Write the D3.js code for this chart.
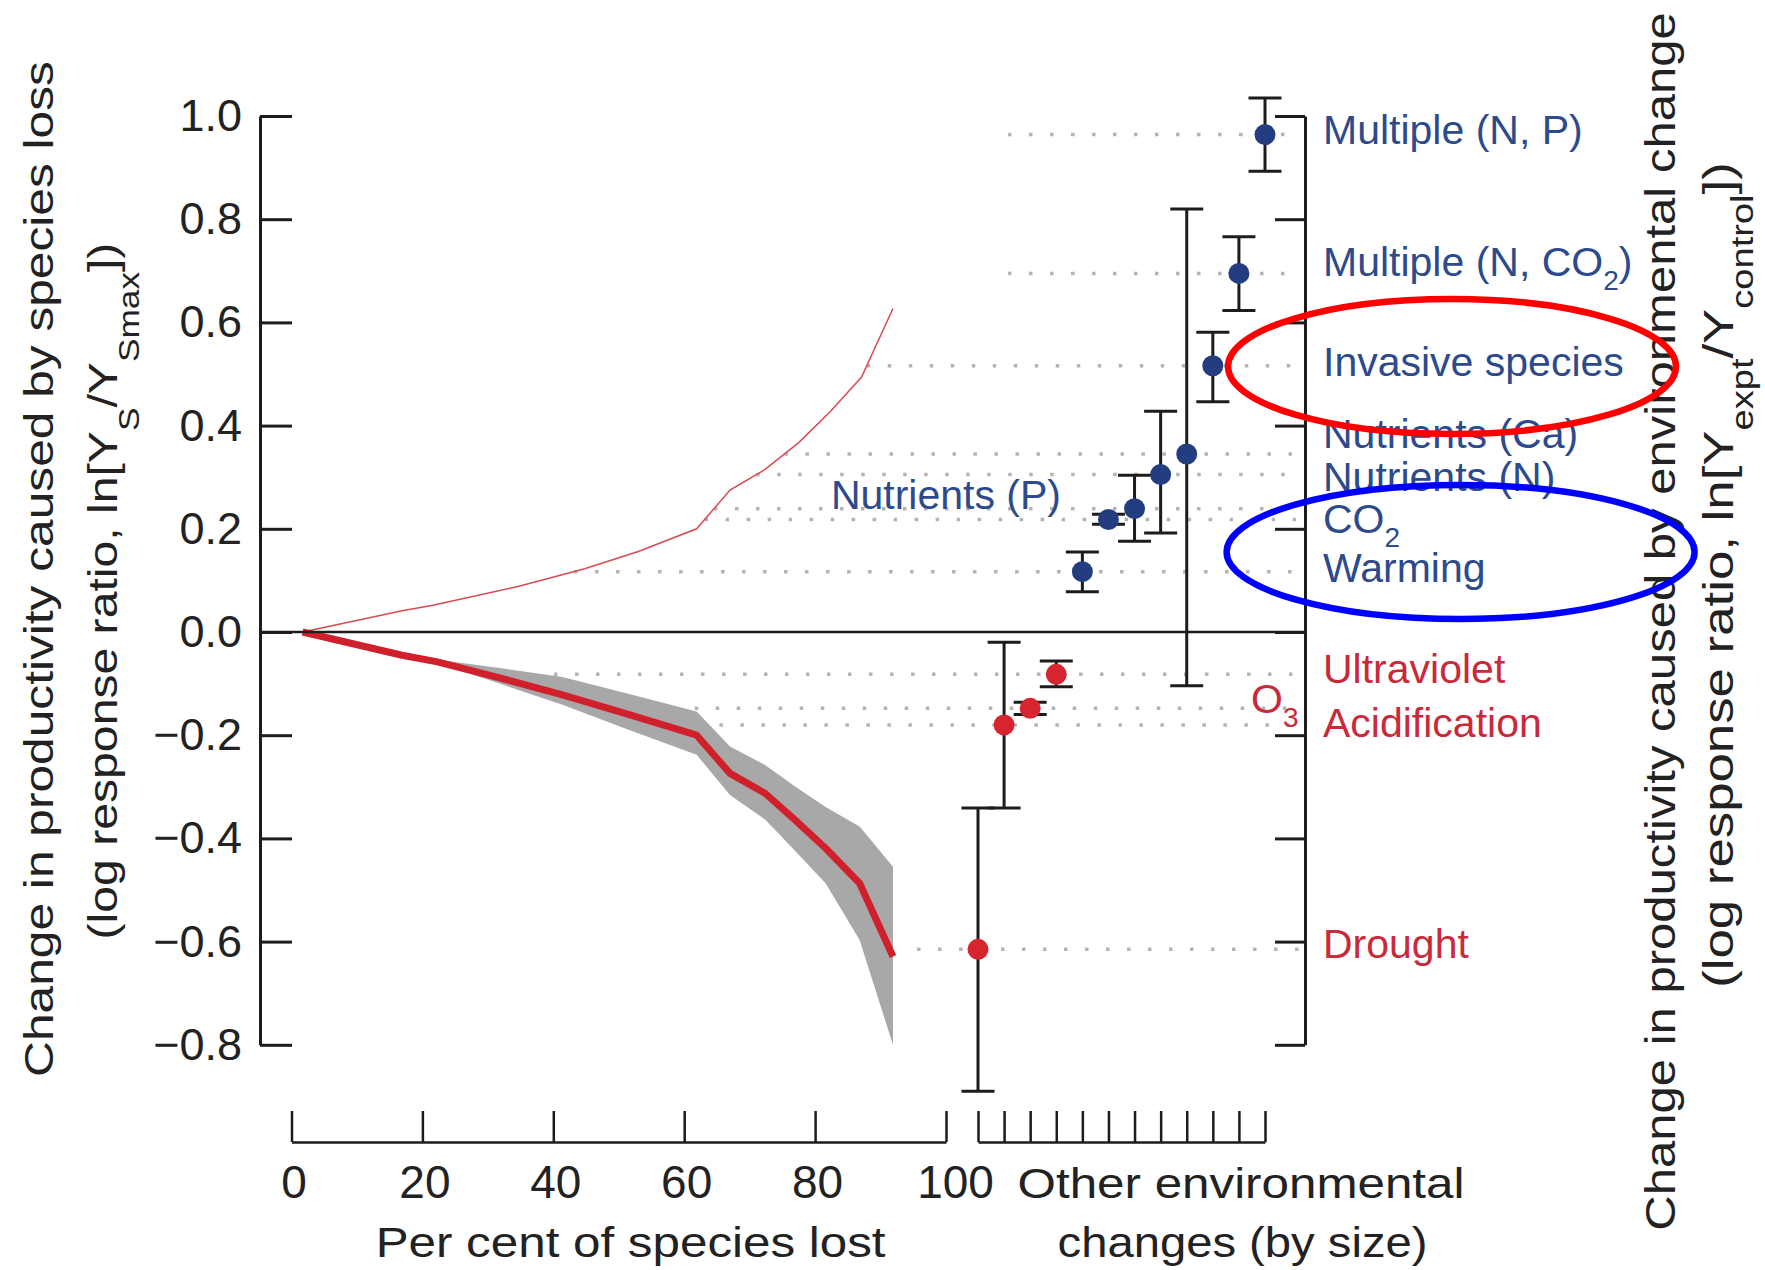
<!DOCTYPE html>
<html>
<head>
<meta charset="utf-8">
<script src="https://cdn.jsdelivr.net/npm/d3@7"></script>
<style>
  html, body { margin: 0; padding: 0; background: #fff; }
  svg { display: block; font-family: "Liberation Sans", Arial, Helvetica, sans-serif; }
</style>
</head>
<body>
<svg id="chart" width="1765" height="1270"></svg>
<script>
// ---- Species-loss curve (per cent of species lost vs. log response ratio) ----
const lossPct   = [1.7, 16.9, 22.3, 31.8, 41.4, 51.6, 61.9, 67, 72.4, 77, 81.6, 86.8, 91.9];
const lossMean  = [0, -0.045, -0.058, -0.089, -0.122, -0.160, -0.200, -0.274, -0.313, -0.365, -0.419, -0.487, -0.629];
const lossUpper = [0, -0.044, -0.054, -0.070, -0.087, -0.120, -0.154, -0.222, -0.258, -0.300, -0.339, -0.377, -0.455];
const lossLower = [0, -0.046, -0.060, -0.100, -0.141, -0.190, -0.238, -0.316, -0.364, -0.425, -0.487, -0.597, -0.800];

// Mirror curve (magnitude of the species-loss effect drawn as a gain)
const gainPct   = [1.7, 16.9, 21.6, 34.6, 44.8, 53, 61.9, 67, 72.4, 77.5, 82.3, 87.1, 91.9];
const gainValue = [0, 0.041, 0.052, 0.088, 0.1225, 0.156, 0.200, 0.275, 0.3155, 0.367, 0.427, 0.494, 0.627];

// ---- Other environmental changes, ordered by size ----
const envNames = ["Drought", "Acidification", "O3", "Ultraviolet", "Warming", "CO2",
                  "Nutrients (P)", "Nutrients (N)", "Nutrients (Ca)", "Invasive species",
                  "Multiple (N, CO2)", "Multiple (N, P)"];
const envMean = [-0.615, -0.180, -0.148, -0.082, 0.117, 0.218, 0.239, 0.305, 0.345, 0.516, 0.695, 0.964];
const envLow  = [-0.890, -0.341, -0.160, -0.106, 0.078, 0.209, 0.176, 0.192, -0.104, 0.446, 0.623, 0.893];
const envHigh = [-0.341, -0.020, -0.136, -0.056, 0.155, 0.228, 0.304, 0.428, 0.820, 0.581, 0.766, 1.035];

// ---- Axis ticks ----
const yTicks = [-0.8, -0.6, -0.4, -0.2, 0, 0.2, 0.4, 0.6, 0.8, 1.0];
const pctTicks = [0, 20, 40, 60, 80, 100];

// ================= drawing =================
const svg = d3.select("#chart");
const BLUE_PT = "#243d80", RED_PT = "#d6252f";
const BLUE_TXT = "#2d4a8c", RED_TXT = "#c92a3a";
const INK = "#1c1c1c";

const y = d3.scaleLinear().domain([-0.8, 1.0]).range([1044.8, 116]);
const xPct = d3.scaleLinear().domain([0, 100]).range([291.5, 946]);
const xEnv = d3.scalePoint().domain(envNames).range([978, 1265]);

const AXIS_LEFT = 260, AXIS_RIGHT = 1305, AXIS_BOTTOM = 1142;

// horizontal dotted guide lines from the curve to the right axis
function crossing(pcts, vals, v) {
  for (let i = 0; i < vals.length - 1; i++) {
    const a = vals[i], b = vals[i + 1];
    if ((v - a) * (v - b) <= 0 && a !== b) {
      const t = (v - a) / (b - a);
      return pcts[i] + t * (pcts[i + 1] - pcts[i]);
    }
  }
  return null;
}
const guides = svg.append("g");
envMean.forEach((v) => {
  let x0;
  if (v >= 0) {
    const p = crossing(gainPct, gainValue, v);
    x0 = p === null ? 1008 : xPct(p);
  } else {
    const p = crossing(lossPct, lossUpper, v);
    x0 = p === null ? 917 : xPct(p) + 10;
  }
  guides.append("line")
    .attr("x1", x0).attr("x2", 1300)
    .attr("y1", y(v)).attr("y2", y(v))
    .attr("stroke", "#b4b4b4").attr("stroke-width", 3.5)
    .attr("stroke-dasharray", "3.5 17.5");
});

// confidence band of the species-loss curve
const band = d3.area()
  .x((d, i) => xPct(lossPct[i]))
  .y0((d, i) => y(lossLower[i]))
  .y1((d, i) => y(lossUpper[i]));
svg.append("path").datum(lossPct).attr("d", band).attr("fill", "#a8a8a8");

// thin mirror line
svg.append("path").datum(gainPct)
  .attr("d", d3.line().x((d, i) => xPct(gainPct[i])).y((d, i) => y(gainValue[i])))
  .attr("fill", "none").attr("stroke", "#d84a52").attr("stroke-width", 1.5);

// thick species-loss line
svg.append("path").datum(lossPct)
  .attr("d", d3.line().x((d, i) => xPct(lossPct[i])).y((d, i) => y(lossMean[i])))
  .attr("fill", "none").attr("stroke", "#d0202c").attr("stroke-width", 7)
  .attr("stroke-linejoin", "round");

// zero line
svg.append("line")
  .attr("x1", AXIS_LEFT).attr("x2", AXIS_RIGHT)
  .attr("y1", y(0)).attr("y2", y(0))
  .attr("stroke", INK).attr("stroke-width", 2.5);

// axes
function styleAxis(g, w) {
  g.selectAll("path, line").attr("stroke", INK).attr("stroke-width", w);
  g.selectAll("text").attr("fill", "#222").attr("font-family", "'Liberation Sans', Arial, sans-serif");
}
const fmt = d3.format(".1f");
const gl = svg.append("g").attr("transform", `translate(${AXIS_LEFT},0)`)
  .call(d3.axisLeft(y).tickValues(yTicks).tickSizeInner(-32).tickSizeOuter(0)
    .tickPadding(18).tickFormat(fmt));
styleAxis(gl, 3);
gl.selectAll("text").attr("font-size", 45);

const gr = svg.append("g").attr("transform", `translate(${AXIS_RIGHT},0)`)
  .call(d3.axisRight(y).tickValues(yTicks).tickSizeInner(-30).tickSizeOuter(0).tickFormat(""));
styleAxis(gr, 3);

const gb = svg.append("g").attr("transform", `translate(0,${AXIS_BOTTOM})`)
  .call(d3.axisBottom(xPct).tickValues(pctTicks).tickSizeInner(-31).tickSizeOuter(0)
    .tickPadding(23).tickFormat(d3.format("d")));
styleAxis(gb, 2.5);
gb.selectAll("text").attr("font-size", 46).attr("dx", (d) => d === 100 ? 9 : 2);

const ge = svg.append("g").attr("transform", `translate(0,${AXIS_BOTTOM})`)
  .call(d3.axisBottom(xEnv).tickSizeInner(-31).tickSizeOuter(0).tickFormat(""));
styleAxis(ge, 2.5);

// error bars
const bars = svg.append("g").attr("stroke", INK).attr("stroke-width", 3);
envNames.forEach((n, i) => {
  const cx = xEnv(n), cap = 16.5;
  bars.append("line").attr("x1", cx).attr("x2", cx).attr("y1", y(envLow[i])).attr("y2", y(envHigh[i]));
  bars.append("line").attr("x1", cx - cap).attr("x2", cx + cap).attr("y1", y(envLow[i])).attr("y2", y(envLow[i]));
  bars.append("line").attr("x1", cx - cap).attr("x2", cx + cap).attr("y1", y(envHigh[i])).attr("y2", y(envHigh[i]));
});

// points
svg.append("g").selectAll("circle").data(envNames).join("circle")
  .attr("cx", (d) => xEnv(d))
  .attr("cy", (d, i) => y(envMean[i]))
  .attr("r", 10.5)
  .attr("fill", (d, i) => envMean[i] < 0 ? RED_PT : BLUE_PT);

// rich text helper: parts = [[text, isSub], ...]
function rich(sel, parts, fs, subFs, subDy) {
  let inSub = false;
  parts.forEach(([t, sub]) => {
    const ts = sel.append("tspan").text(t).attr("font-size", sub ? subFs : fs);
    if (sub && !inSub) ts.attr("dy", subDy);
    if (!sub && inSub) ts.attr("dy", -subDy);
    inSub = sub;
  });
  return sel;
}

// category labels (placed at value-space positions along the right axis)
const labelSpecs = [
  { parts: [["Multiple (N, P)", false]], at: 0.946, x: 1323, c: BLUE_TXT },
  { parts: [["Multiple (N, CO", false], ["2", true], [")", false]], at: 0.6905, x: 1323, c: BLUE_TXT },
  { parts: [["Invasive species", false]], at: 0.4967, x: 1323, c: BLUE_TXT },
  { parts: [["Nutrients (Ca)", false]], at: 0.3566, x: 1323, c: BLUE_TXT },
  { parts: [["Nutrients (N)", false]], at: 0.2738, x: 1323, c: BLUE_TXT },
  { parts: [["CO", false], ["2", true]], at: 0.1919, x: 1323, c: BLUE_TXT },
  { parts: [["Warming", false]], at: 0.0973, x: 1323, c: BLUE_TXT },
  { parts: [["Nutrients (P)", false]], at: 0.239, x: 1061, c: BLUE_TXT, anchor: "end" },
  { parts: [["Ultraviolet", false]], at: -0.0983, x: 1323, c: RED_TXT },
  { parts: [["O", false], ["3", true]], at: -0.1564, x: 1251, c: RED_TXT },
  { parts: [["Acidification", false]], at: -0.2029, x: 1323, c: RED_TXT },
  { parts: [["Drought", false]], at: -0.6324, x: 1323, c: RED_TXT },
];
const lab = svg.append("g");
labelSpecs.forEach((s) => {
  const t = lab.append("text")
    .attr("x", s.x).attr("y", y(s.at))
    .attr("fill", s.c)
    .attr("text-anchor", s.anchor || "start");
  rich(t, s.parts, 41, 28, 14);
});

// titles scaled along their reading direction to a set length
function title(parts, fs, tx, ty, rot, len, subFs, subDy) {
  const g = svg.append("g");
  const t = g.append("text").attr("text-anchor", "middle").attr("fill", "#222");
  rich(t, parts, fs, subFs || 30, subDy || 20);
  const w = t.node().getBBox().width;
  const k = len / w;
  g.attr("transform", `translate(${tx},${ty}) rotate(${rot}) scale(${k},1)`);
}
title([["Change in productivity caused by species loss", false]], 41, 53, 569, -90, 1016);
title([["(log response ratio, ln[Y", false], ["S", true], ["/Y", false], ["Smax", true], ["])", false]],
      41, 117, 591, -90, 697, 30, 22);
title([["Change in productivity caused by environmental change", false]], 43, 1675, 621.5, -90, 1219);
title([["(log response ratio, ln[Y", false], ["expt", true], ["/Y", false], ["control", true], ["])", false]],
      43, 1733, 575, -90, 826, 31, 20);
title([["Per cent of species lost", false]], 43, 630.6, 1257, 0, 510);
title([["Other environmental", false]], 43, 1241, 1198, 0, 447);
title([["changes (by size)", false]], 43, 1242.5, 1257, 0, 370);

// highlight ovals
svg.append("ellipse").attr("cx", 1452).attr("cy", 366.5).attr("rx", 224).attr("ry", 67.5)
  .attr("fill", "none").attr("stroke", "#ff0000").attr("stroke-width", 6.5);
svg.append("ellipse").attr("cx", 1460.6).attr("cy", 552).attr("rx", 234).attr("ry", 67)
  .attr("fill", "none").attr("stroke", "#0000ff").attr("stroke-width", 6.5);
</script>
</body>
</html>
